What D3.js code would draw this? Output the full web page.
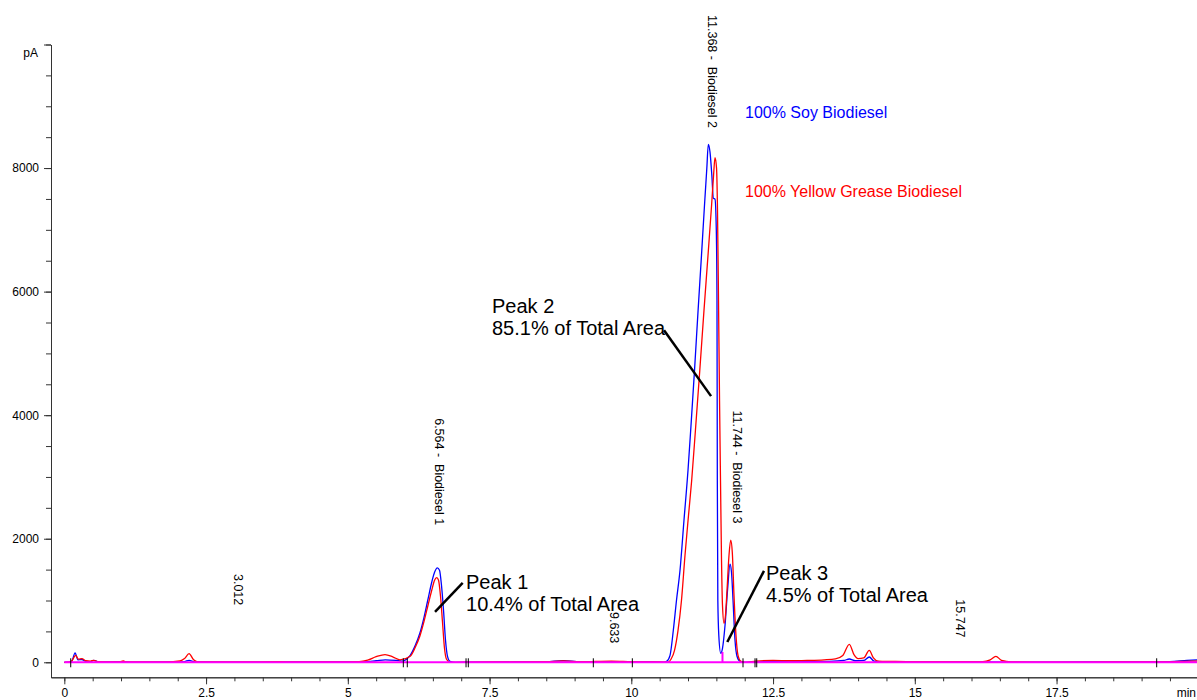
<!DOCTYPE html>
<html lang="en">
<head>
<meta charset="utf-8">
<title>Biodiesel chromatogram</title>
<script src="https://cdn.jsdelivr.net/npm/d3@7"></script>
<style>
body { margin: 0; background: #fff; }
svg { font-family: "Liberation Sans", Arial, sans-serif; }
.axis path, .axis line { stroke: #333; }
.axis text { font-size: 12px; fill: #000; }
.trace { fill: none; stroke-width: 1.3px; stroke-linejoin: round; }
.baseline { fill: none; stroke: #ff00ff; stroke-width: 2px; }
.event { stroke: #000; stroke-width: 1px; }
.rtlabel { font-size: 12.5px; white-space: pre; }
.note { font-size: 20px; }
.pointer { stroke: #000; stroke-width: 2.5px; }
.legend { font-size: 16px; }
</style>
</head>
<body>
<div id="chart"></div>
<script>
"use strict";

// retention time (min), signal (pA)
var soyTrace = [
  [0,0],[0.08,3],[0.13,15],[0.19,151],[0.24,40],[0.31,45],[0.38,15],[0.46,10],[0.52,30],[0.6,8],
  [0.75,5],[1.04,12],[1.2,3],[2.0,5],[2.12,12],[2.2,32],[2.3,6],[3.0,3],[4.0,5],[5.2,5],
  [5.5,25],[5.66,40],[5.85,30],[5.95,20],
  [6.10,113],[6.19,275],[6.27,470],[6.34,712],[6.41,1004],[6.48,1296],[6.53,1457],[6.579,1527],
  [6.617,1490],[6.652,1247],[6.688,842],[6.723,356],[6.758,97],[6.802,16],[6.9,0],
  [7.5,3],[8.5,8],[8.8,25],[9.1,8],[9.6,12],[10.0,8],[10.4,5],
  [10.577,2],[10.624,16],[10.683,113],[10.741,518],[10.797,1004],[10.859,1490],[10.929,2300],
  [11.000,3109],[11.053,3838],[11.115,4729],[11.178,5700],[11.238,6591],[11.291,7401],[11.332,8000],
  [11.358,8384],[11.388,8259],[11.420,7887],[11.446,7514],[11.476,7498],[11.499,6996],[11.511,5862],
  [11.517,2947],[11.526,1004],[11.543,437],[11.577,146],[11.608,227],[11.653,599],[11.697,1166],
  [11.741,1587],[11.767,1457],[11.794,1004],[11.829,356],[11.864,97],[11.917,16],[12.005,0],
  [12.3,10],[12.6,15],[13.0,10],[13.5,15],[13.75,30],[13.845,53],[13.95,25],[14.1,30],[14.197,86],
  [14.28,20],[14.5,10],[15,8],[16,5],[17,3],[18,5],[19.0,5],[19.5,10],[19.8,30],[20,40]
];

var greaseTrace = [
  [0,0],[0.08,3],[0.13,20],[0.20,113],[0.25,50],[0.31,60],[0.38,25],[0.46,20],[0.52,32],[0.6,10],
  [0.8,5],[0.98,8],[1.04,21],[1.1,5],[1.8,5],[2.04,21],[2.12,60],[2.2,141],[2.28,40],[2.35,8],
  [3.0,5],[3.8,10],[4.0,5],[4.8,5],[5.2,10],[5.35,35],[5.5,90],[5.656,125],[5.8,85],[5.92,40],
  [6.10,97],[6.19,243],[6.27,421],[6.34,648],[6.41,907],[6.48,1166],[6.53,1328],[6.568,1372],
  [6.60,1328],[6.635,1069],[6.67,648],[6.705,227],[6.741,49],[6.8,0],
  [7.5,5],[8.5,10],[8.8,22],[9.1,10],[9.65,20],[10.0,10],[10.5,5],
  [10.647,2],[10.700,49],[10.762,194],[10.824,518],[10.885,1004],[10.947,1733],[11.009,2381],
  [11.065,2947],[11.131,3757],[11.208,4729],[11.282,5700],[11.353,6591],[11.416,7401],[11.451,7887],
  [11.476,8167],[11.503,8000],[11.520,7320],[11.538,5862],[11.556,4243],[11.573,2947],[11.591,1652],
  [11.608,923],[11.635,632],[11.661,761],[11.688,1166],[11.723,1733],[11.753,1976],[11.781,1781],
  [11.811,1085],[11.846,437],[11.882,113],[11.935,16],[12.023,0],
  [12.2,20],[12.5,30],[12.8,25],[13.1,30],[13.4,40],[13.6,55],[13.73,110],[13.845,291],[13.93,120],
  [14.0,60],[14.1,70],[14.197,194],[14.27,70],[14.35,20],[14.6,15],[15.0,10],[15.5,10],[16.2,10],
  [16.33,40],[16.43,97],[16.53,30],[16.7,5],[17.5,3],[18.5,5],[19.0,5],[19.5,8],[19.9,20],[20,20]
];

var seriesNames = ["100% Soy Biodiesel", "100% Yellow Grease Biodiesel"];
var seriesColors = ["#0000ff", "#ff0000"];

var yMajorTicks = [0, 2000, 4000, 6000, 8000, 10000];
var yLabelTicks = [0, 2000, 4000, 6000, 8000];
var xMajorTicks = [0, 2.5, 5, 7.5, 10, 12.5, 15, 17.5];

// integration events and the valley drop line
var eventTimes = [0.113, 5.979, 6.049, 7.085, 7.125, 9.33, 10.018, 11.97, 12.182, 12.212, 19.266];
var valleyDrop = { t: 11.608, top: 167 };

// peak retention labels: rt, text, pA level where the label ends
var rtLabels = [
  { rt: 3.012, text: "3.012", at: 923 },
  { rt: 6.564, text: "6.564 -  Biodiesel 1", at: 2219 },
  { rt: 9.633, text: "9.633", at: 308 },
  { rt: 11.368, text: "11.368 -  Biodiesel 2", at: 8648 },
  { rt: 11.744, text: "11.744 -  Biodiesel 3", at: 2246, shift: 4 },
  { rt: 15.747, text: "15.747", at: 400 }
];

var noteTitles = ["Peak 1", "Peak 2", "Peak 3"];
var noteShares = ["10.4% of Total Area", "85.1% of Total Area", "4.5% of Total Area"];
var noteAnchors = [[7.085, 1193], [7.543, 5652], [12.375, 1339]];
var notePointers = [
  [[7.026, 1284], [6.538, 815]],
  [[10.577, 5376], [11.406, 4308]],
  [[12.340, 1479], [11.693, 329]]
];
var legendAnchors = [[12.005, 8810], [12.005, 7530]];

var width = 1197, height = 700;

var x = d3.scaleLinear().domain([-0.235, 20]).range([51, 1198.3]);
var y = d3.scaleLinear().domain([-243, 10000]).range([677.3, 44.5]);

var svg = d3.select("#chart").append("svg")
    .attr("width", width)
    .attr("height", height);

svg.append("rect").attr("width", width).attr("height", height).attr("fill", "#fff");

// y axis
svg.append("g")
    .attr("class", "axis")
    .attr("transform", "translate(" + x(-0.235) + ",0)")
    .call(d3.axisLeft(y).tickValues(d3.range(0, 10001, 500)).tickSize(5).tickSizeOuter(0).tickFormat(""));
svg.append("g")
    .attr("class", "axis")
    .attr("transform", "translate(" + x(-0.235) + ",0)")
    .call(d3.axisLeft(y).tickValues(yMajorTicks).tickSize(7).tickSizeOuter(0).tickPadding(5)
      .tickFormat(function(d) { return yLabelTicks.indexOf(d) >= 0 ? d : ""; }));

// x axis
svg.append("g")
    .attr("class", "axis")
    .attr("transform", "translate(0," + y(-243) + ")")
    .call(d3.axisBottom(x).tickValues(d3.range(0, 19.9, 0.5)).tickSize(4).tickSizeOuter(0).tickFormat(""));
svg.append("g")
    .attr("class", "axis")
    .attr("transform", "translate(0," + y(-243) + ")")
    .call(d3.axisBottom(x).tickValues(xMajorTicks).tickSize(7).tickSizeOuter(0).tickPadding(4)
      .tickFormat(d3.format("~g")));

svg.append("text")
    .attr("x", 38).attr("y", 57)
    .attr("text-anchor", "end")
    .style("font-size", "12px")
    .text("pA");
svg.append("text")
    .attr("x", 1196).attr("y", 697)
    .attr("text-anchor", "end")
    .style("font-size", "12px")
    .text("min");

// traces
var line = d3.line()
    .x(function(d) { return x(d[0]); })
    .y(function(d) { return y(d[1]); })
    .curve(d3.curveMonotoneX);

svg.selectAll(".trace")
    .data([soyTrace, greaseTrace])
  .enter().append("path")
    .attr("class", "trace")
    .attr("stroke", function(d, i) { return seriesColors[i]; })
    .attr("d", line);

// baseline in magenta
svg.append("path")
    .attr("class", "baseline")
    .attr("d", line.curve(d3.curveLinear)([[0, 0], [20, 0]]));
svg.append("line")
    .attr("class", "baseline")
    .attr("x1", x(valleyDrop.t)).attr("x2", x(valleyDrop.t))
    .attr("y1", y(0)).attr("y2", y(valleyDrop.top))
    .attr("stroke", "#ff00ff");

svg.selectAll(".event")
    .data(eventTimes)
  .enter().append("line")
    .attr("class", "event")
    .attr("x1", function(d) { return x(d); })
    .attr("x2", function(d) { return x(d); })
    .attr("y1", y(0) - 4)
    .attr("y2", y(0) + 5);

// rotated retention time labels
svg.selectAll(".rtlabel")
    .data(rtLabels)
  .enter().append("text")
    .attr("class", "rtlabel")
    .attr("text-anchor", "end")
    .attr("transform", function(d) {
      return "translate(" + (x(d.rt) - 1 + (d.shift || 0)) + "," + y(d.at) + ") rotate(90)";
    })
    .text(function(d) { return d.text; });

// peak area notes
noteTitles.forEach(function(title, i) {
  var a = noteAnchors[i];
  var t = svg.append("text")
      .attr("class", "note")
      .attr("x", x(a[0]))
      .attr("y", y(a[1]));
  t.append("tspan").attr("x", x(a[0])).text(title);
  t.append("tspan").attr("x", x(a[0])).attr("dy", 22).text(noteShares[i]);

  var p = notePointers[i];
  svg.append("line")
      .attr("class", "pointer")
      .attr("x1", x(p[0][0])).attr("y1", y(p[0][1]))
      .attr("x2", x(p[1][0])).attr("y2", y(p[1][1]));
});

// legend
svg.selectAll(".legend")
    .data(seriesNames)
  .enter().append("text")
    .attr("class", "legend")
    .attr("x", function(d, i) { return x(legendAnchors[i][0]); })
    .attr("y", function(d, i) { return y(legendAnchors[i][1]); })
    .attr("fill", function(d, i) { return seriesColors[i]; })
    .text(function(d) { return d; });
</script>
</body>
</html>
